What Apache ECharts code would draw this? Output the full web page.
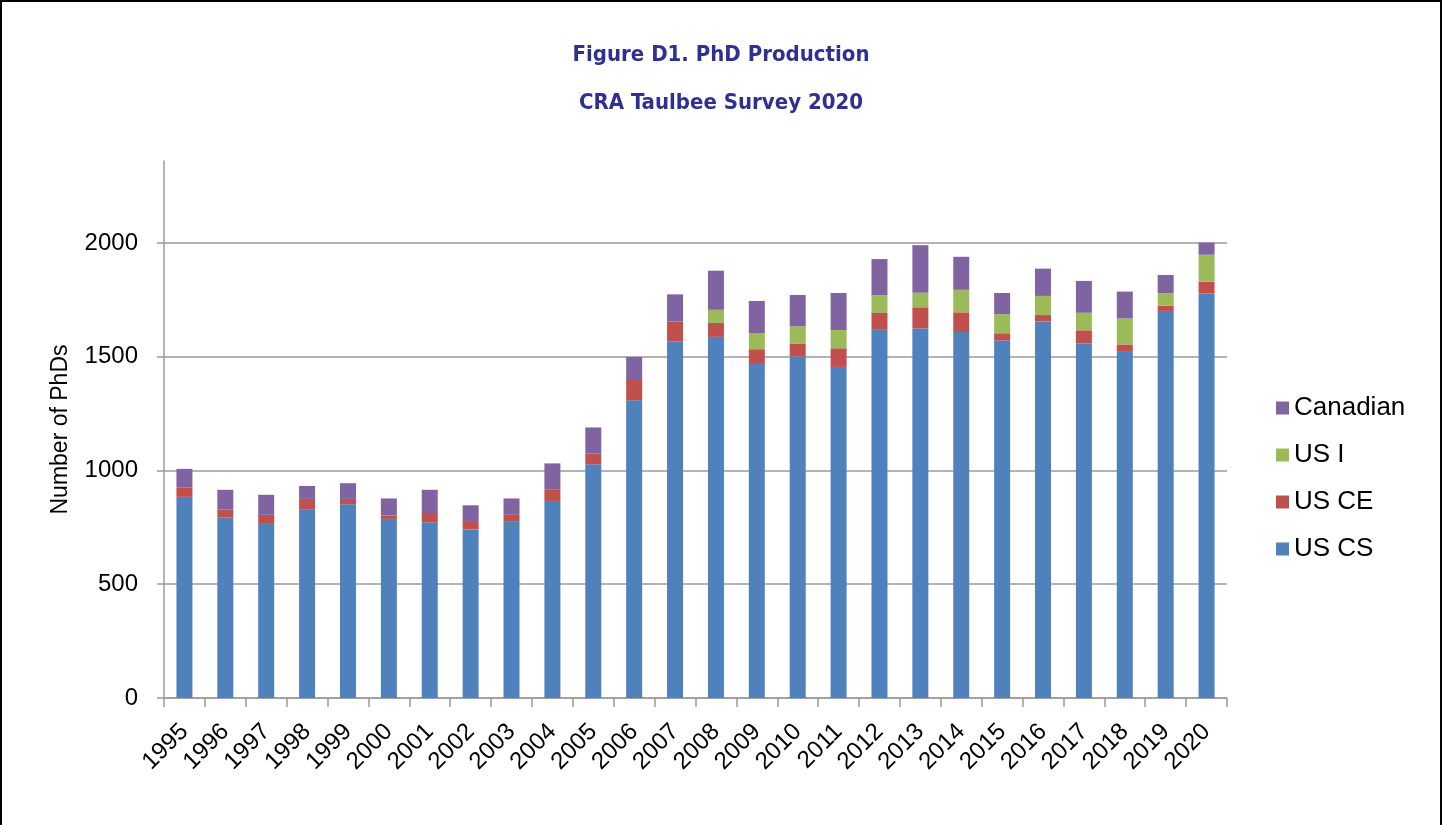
<!DOCTYPE html>
<html>
<head>
<meta charset="utf-8">
<title>PhD Production</title>
<script src="https://cdn.jsdelivr.net/npm/echarts@6/dist/echarts.min.js"></script>
<style>
	html, body {
		margin: 0;
		padding: 0;
		background: #fff;
	}
	.phdProductionBar {
		width: 1442px;
		height: 825px;
		box-sizing: border-box;
		border-top: 2px solid #000;
		border-left: 2px solid #000;
		border-right: 2px solid #000;
	}
</style>
</head>
<body>
<div class="phdProductionBar" id="phdProductionBar"></div>
<script>
	// data
	const years = ['1995', '1996', '1997', '1998', '1999', '2000', '2001', '2002', '2003', '2004', '2005', '2006', '2007',
		'2008', '2009', '2010', '2011', '2012', '2013', '2014', '2015', '2016', '2017', '2018', '2019', '2020'];
	const usCS = [884, 793, 765, 829, 851, 787, 772, 741, 774, 866, 1027, 1308, 1568,
		1587, 1468, 1501, 1455, 1618, 1624, 1608, 1571, 1655, 1558, 1521, 1701, 1777];
	const usCE = [42, 36, 40, 46, 24, 15, 41, 37, 31, 49, 48, 94, 87,
		61, 65, 57, 82, 74, 93, 87, 32, 28, 58, 33, 23, 53];
	const usI = [0, 0, 0, 0, 0, 0, 0, 0, 0, 0, 0, 0, 0,
		58, 69, 75, 80, 78, 64, 99, 84, 84, 77, 114, 55, 118];
	const canadian = [81, 86, 88, 57, 69, 75, 102, 69, 72, 116, 114, 97, 119,
		172, 143, 138, 163, 159, 209, 145, 93, 120, 140, 118, 80, 53];
	const yTicks = [0, 500, 1000, 1500, 2000];

	const color = ['#4f81bd', '#c0504d', '#9bbb59', '#8064a2'];
	const gridGrey = '#9b9b9b';
	const labelFont = 'Liberation Sans, Arial, Helvetica, sans-serif';
	const titleFont = 'DejaVu Sans Condensed, DejaVu Sans, sans-serif';

	let myChart = echarts.init(document.getElementById('phdProductionBar'));

	const barSeries = (name, data) => ({
		name: name,
		type: 'bar',
		stack: 'total',
		barWidth: 16,
		data: data
	});

	const option = {
		animation: false,
		color: color,
		title: [{
			text: 'Figure D1. PhD Production',
			left: 'center',
			top: 37,
			textStyle: {
				fontFamily: titleFont,
				fontWeight: 'bold',
				fontSize: 22,
				color: '#2e3192'
			}
		}, {
			text: 'CRA Taulbee Survey 2020',
			left: 'center',
			top: 85,
			textStyle: {
				fontFamily: titleFont,
				fontWeight: 'bold',
				fontSize: 22,
				color: '#2e3192'
			}
		}],
		legend: {
			orient: 'vertical',
			left: 1269,
			top: 388,
			itemWidth: 13,
			itemHeight: 13,
			itemGap: 21,
			icon: 'rect',
			data: ['Canadian', 'US I', 'US CE', 'US CS'],
			textStyle: {
				fontFamily: labelFont,
				fontSize: 26,
				color: '#000'
			}
		},
		grid: {
			left: 162,
			right: 213,
			top: 159,
			bottom: 127,
			containLabel: false
		},
		xAxis: {
			type: 'category',
			data: years,
			boundaryGap: true,
			axisLine: {
				lineStyle: {
					color: gridGrey,
					width: 1.5
				}
			},
			axisTick: {
				show: true,
				length: 9,
				lineStyle: {
					color: gridGrey,
					width: 1.5
				}
			},
			axisLabel: {
				rotate: 45,
				interval: 0,
				margin: 30,
				fontFamily: labelFont,
				fontSize: 24,
				color: '#000'
			}
		},
		yAxis: {
			type: 'value',
			min: 0,
			max: 2360,
			interval: 500,
			name: 'Number of PhDs',
			nameLocation: 'middle',
			nameGap: 92,
			nameTextStyle: {
				fontFamily: labelFont,
				fontSize: 23,
				color: '#000'
			},
			axisLine: {
				show: true,
				lineStyle: {
					color: gridGrey,
					width: 1.5
				}
			},
			axisTick: {
				show: true,
				length: 7,
				customValues: yTicks,
				lineStyle: {
					color: gridGrey,
					width: 1.5
				}
			},
			axisLabel: {
				margin: 26,
				customValues: yTicks,
				formatter: (v) => String(v),
				fontFamily: labelFont,
				fontSize: 24,
				color: '#000'
			},
			splitLine: {
				show: true,
				lineStyle: {
					color: [gridGrey, gridGrey, gridGrey, gridGrey, gridGrey, 'rgba(0,0,0,0)'],
					width: 1.5
				}
			}
		},
		series: [
			barSeries('US CS', usCS),
			barSeries('US CE', usCE),
			barSeries('US I', usI),
			barSeries('Canadian', canadian)
		]
	};
	myChart.setOption(option);
</script>
</body>
</html>
